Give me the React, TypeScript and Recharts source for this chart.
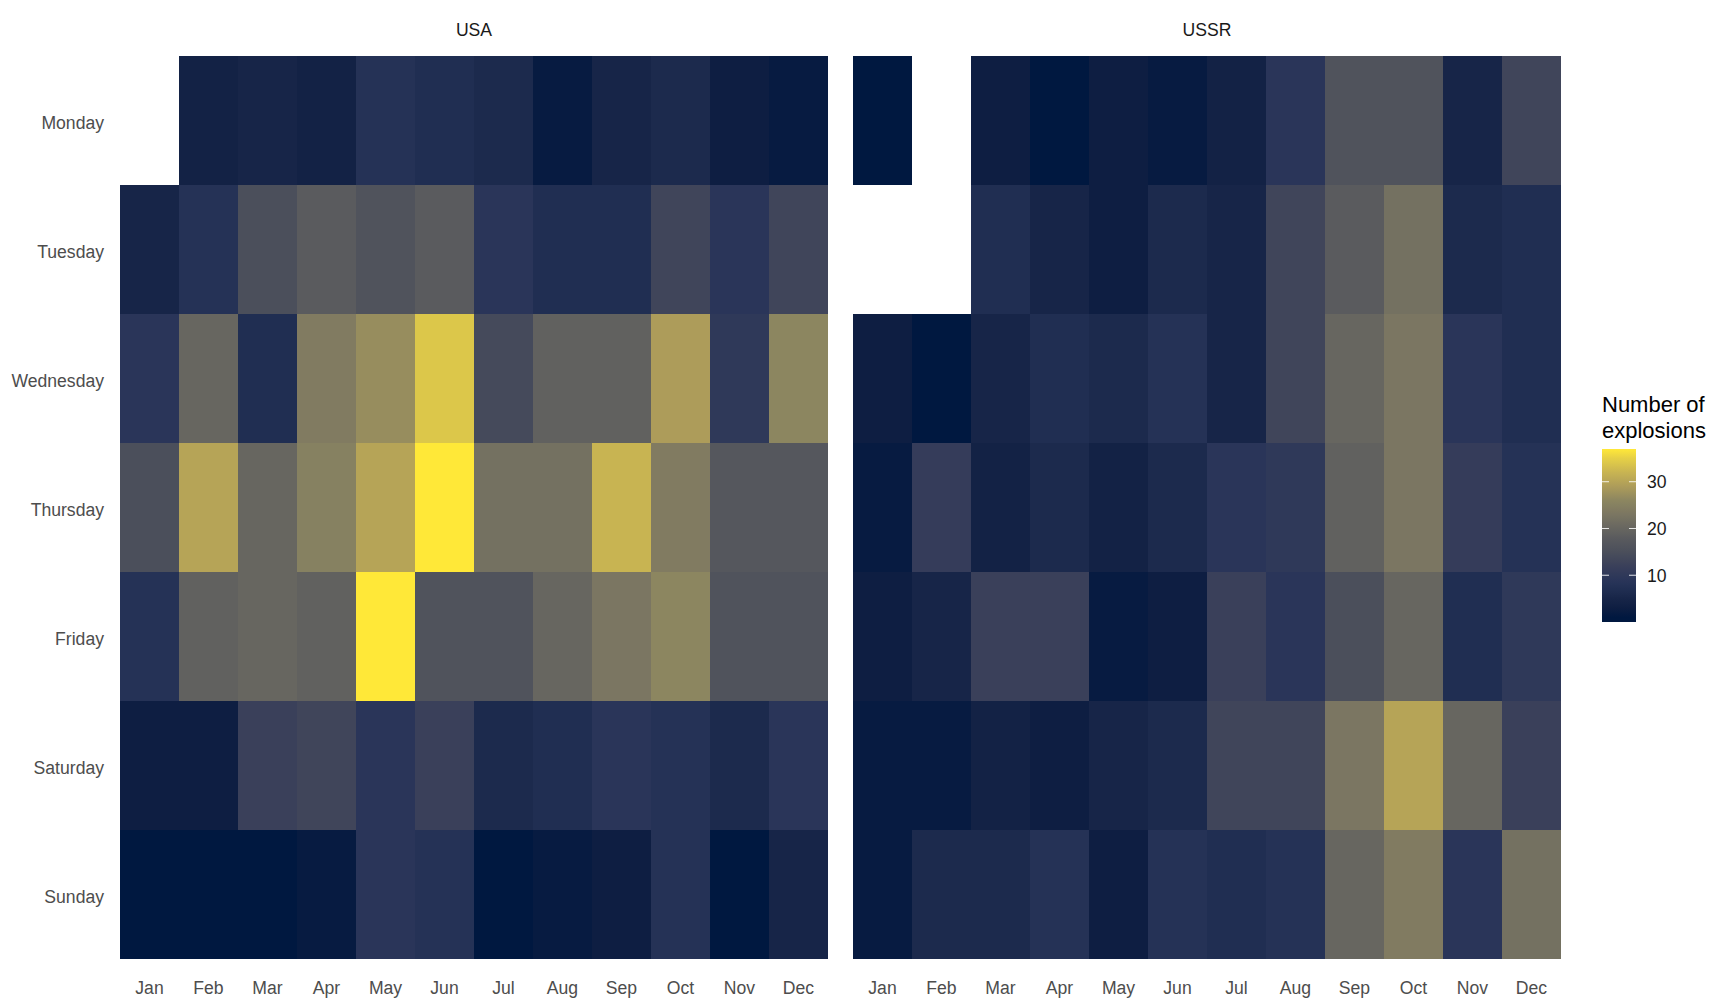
import React from 'react';
import { BarChart, Bar, XAxis, YAxis, Cell } from 'recharts';

const MONTHS = ['Jan', 'Feb', 'Mar', 'Apr', 'May', 'Jun', 'Jul', 'Aug', 'Sep', 'Oct', 'Nov', 'Dec'];
const DAYS = ['Monday', 'Tuesday', 'Wednesday', 'Thursday', 'Friday', 'Saturday', 'Sunday'];
const FACETS = ['USA', 'USSR'];
const LEGEND_TITLE = ['Number of', 'explosions'];
const LEGEND_TICKS = [10, 20, 30];
const SCALE_MIN = 0;
const SCALE_MAX = 37;

type Row = (number | null)[];

// USA: number of explosions by weekday (rows) and month (columns)
const usaMonday: Row = [null, 4, 5, 4, 8, 7, 6, 2, 5, 6, 3, 2];
const usaTuesday: Row = [5, 8, 15, 18, 16, 18, 9, 7, 7, 13, 9, 13];
const usaWednesday: Row = [9, 20, 7, 24, 27, 34, 14, 19, 19, 29, 10, 26];
const usaThursday: Row = [15, 30, 20, 25, 30, 37, 22, 22, 32, 24, 17, 17];
const usaFriday: Row = [8, 19, 20, 19, 37, 16, 16, 20, 23, 26, 16, 16];
const usaSaturday: Row = [3, 3, 12, 13, 9, 12, 6, 7, 9, 8, 6, 9];
const usaSunday: Row = [1, 1, 1, 2, 9, 8, 1, 2, 3, 8, 1, 5];

// USSR
const ussrMonday: Row = [1, null, 3, 1, 3, 2, 4, 9, 16, 16, 5, 13];
const ussrTuesday: Row = [null, null, 7, 5, 3, 6, 5, 13, 18, 22, 6, 7];
const ussrWednesday: Row = [3, 1, 5, 7, 6, 8, 5, 13, 20, 23, 9, 7];
const ussrThursday: Row = [2, 11, 4, 6, 4, 6, 9, 10, 19, 23, 11, 8];
const ussrFriday: Row = [3, 5, 12, 12, 2, 3, 12, 9, 15, 20, 7, 10];
const ussrSaturday: Row = [2, 2, 4, 3, 5, 6, 13, 13, 23, 30, 20, 12];
const ussrSunday: Row = [2, 6, 6, 8, 3, 8, 7, 8, 20, 24, 9, 22];

const USA_ROWS: Row[] = [usaMonday, usaTuesday, usaWednesday, usaThursday, usaFriday, usaSaturday, usaSunday];
const USSR_ROWS: Row[] = [ussrMonday, ussrTuesday, ussrWednesday, ussrThursday, ussrFriday, ussrSaturday, ussrSunday];

// colour scale (cividis-like)
const STOPS: [number, string][] = [
  [1, '#001840'], [3, '#0e1e42'], [5, '#172548'], [7, '#202e52'], [9, '#2a3559'],
  [12, '#3a405a'], [15, '#4b4f5b'], [18, '#5a5b5e'], [20, '#676660'], [23, '#7b7662'],
  [26, '#8c8660'], [29, '#ad9c5a'], [32, '#c8b452'], [35, '#e6d046'], [37, '#ffe838'],
];

function hexToRgb(h: string) {
  return [parseInt(h.slice(1, 3), 16), parseInt(h.slice(3, 5), 16), parseInt(h.slice(5, 7), 16)];
}
function colorFor(v: number): string {
  if (v <= STOPS[0][0]) return STOPS[0][1];
  for (let i = 1; i < STOPS.length; i++) {
    if (v <= STOPS[i][0]) {
      const [a, ca] = STOPS[i - 1];
      const [b, cb] = STOPS[i];
      const t = (v - a) / (b - a);
      const A = hexToRgb(ca), B = hexToRgb(cb);
      const c = A.map((x, k) => Math.round(x + (B[k] - x) * t));
      return `rgb(${c[0]},${c[1]},${c[2]})`;
    }
  }
  return STOPS[STOPS.length - 1][1];
}

function buildData(rows: Row[]) {
  return MONTHS.map((m, i) => {
    const o: any = { month: m };
    DAYS.forEach((d, r) => {
      o[d] = 1;
      o[d + '_v'] = rows[r][i];
    });
    return o;
  });
}

const FONT = '"Liberation Sans", Arial, Helvetica, sans-serif';
const AXIS_TEXT = { fontSize: 17.6, fill: '#4d4d4d', fontFamily: FONT };
const Y_TICKS = [0.5, 1.5, 2.5, 3.5, 4.5, 5.5, 6.5];
const STACK_ORDER = [...DAYS].reverse(); // Sunday at bottom

function Panel({ rows, showY, width }: { rows: Row[]; showY: boolean; width: number }) {
  const data = buildData(rows);
  return (
    <BarChart
      width={width}
      height={1008}
      data={data}
      margin={{ top: 56, right: showY ? 12 : 0, bottom: 0, left: 0 }}
      barCategoryGap={0}
      barGap={0}
    >
      <XAxis
        dataKey="month"
        type="category"
        axisLine={false}
        tickLine={false}
        tickSize={0}
        tickMargin={23}
        height={49}
        tick={AXIS_TEXT}
        interval={0}
      />
      <YAxis
        type="number"
        domain={[0, 7]}
        ticks={Y_TICKS}
        tickFormatter={(v: number) => DAYS[6 - Math.floor(v)]}
        axisLine={false}
        tickLine={false}
        tickSize={0}
        tickMargin={16}
        width={120}
        hide={!showY}
        tick={{ ...AXIS_TEXT, dy: 2 }}
        interval={0}
      />
      {STACK_ORDER.map((d) => (
        <Bar key={d} dataKey={d} stackId="s" isAnimationActive={false}>
          {data.map((row: any, i: number) => {
            const v = row[d + '_v'];
            return <Cell key={i} fill={v == null ? 'none' : colorFor(v)} stroke="none" />;
          })}
        </Bar>
      ))}
    </BarChart>
  );
}

function Legend() {
  const barX = 1602, barY = 449, barW = 34, barH = 173;
  const yFor = (v: number) => barY + barH - ((v - SCALE_MIN) / (SCALE_MAX - SCALE_MIN)) * barH;
  const gradStops: number[] = [];
  for (let v = SCALE_MIN; v <= SCALE_MAX; v += 1) gradStops.push(v);
  return (
    <svg width={1728} height={1008} style={{ position: 'absolute', left: 0, top: 0, pointerEvents: 'none' }}>
      <defs>
        <linearGradient id="cbar" x1="0" y1="1" x2="0" y2="0">
          {gradStops.map((v) => (
            <stop key={v} offset={(v - SCALE_MIN) / (SCALE_MAX - SCALE_MIN)} stopColor={colorFor(v)} />
          ))}
        </linearGradient>
      </defs>
      {LEGEND_TITLE.map((t, i) => (
        <text key={t} x={1602} y={412 + i * 25.5} fontSize={22} fill="#000" fontFamily={FONT}>
          {t}
        </text>
      ))}
      <rect x={barX} y={barY} width={barW} height={barH} fill="url(#cbar)" />
      {LEGEND_TICKS.map((v) => (
        <g key={v}>
          <line x1={barX} x2={barX + 7} y1={yFor(v)} y2={yFor(v)} stroke="#ffffff" strokeOpacity={0.85} strokeWidth={1} />
          <line x1={barX + barW - 7} x2={barX + barW} y1={yFor(v)} y2={yFor(v)} stroke="#ffffff" strokeOpacity={0.85} strokeWidth={1} />
          <text x={1647} y={yFor(v) + 6.3} fontSize={17.6} fill="#1a1a1a" fontFamily={FONT}>
            {v}
          </text>
        </g>
      ))}
    </svg>
  );
}

export default function App() {
  return (
    <div style={{ position: 'absolute', left: 0, top: 0, width: 1728, height: 1008, background: '#fff', fontFamily: FONT, overflow: 'hidden' }}>
      <div style={{ position: 'absolute', left: 120, top: 19, width: 708, textAlign: 'center', fontSize: 17.6, lineHeight: '22px', color: '#1a1a1a' }}>
        {FACETS[0]}
      </div>
      <div style={{ position: 'absolute', left: 853, top: 19, width: 708, textAlign: 'center', fontSize: 17.6, lineHeight: '22px', color: '#1a1a1a' }}>
        {FACETS[1]}
      </div>
      <div style={{ position: 'absolute', left: 0, top: 0 }}>
        <Panel rows={USA_ROWS} showY={true} width={840} />
      </div>
      <div style={{ position: 'absolute', left: 853, top: 0 }}>
        <Panel rows={USSR_ROWS} showY={false} width={708} />
      </div>
      <Legend />
    </div>
  );
}
